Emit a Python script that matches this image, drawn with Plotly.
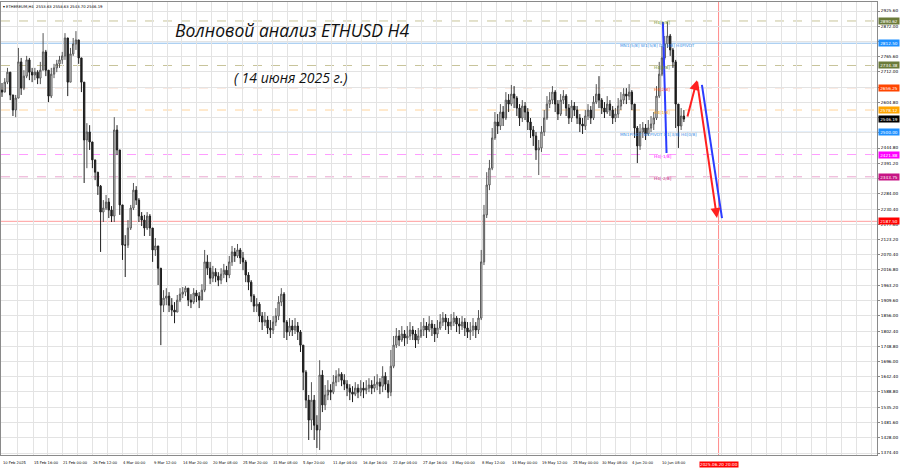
import pandas as pd
import plotly.graph_objects as go

# ---------------- data (ETHUSD, 12h sampling of the H4 chart) ----------------
start_time = "2025-02-10 00:00"
first_open = 2648

close = [
2641,2676,2711,2631,2578,2620,2747,2655,2697,2754,
2711,2701,2711,2690,2718,2782,2718,2627,2704,2726,
2740,2754,2768,2831,2676,2775,2810,2824,2761,2676,
2473,2501,2466,2403,2360,2311,2220,2234,2255,2227,
2206,2508,2438,2245,2104,2104,2164,2234,2297,2262,
2206,2192,2164,2206,2164,2087,2101,2023,1893,1918,
1925,1893,1876,1869,1911,1932,1939,1953,1911,1904,
1936,1925,1911,1946,2045,2023,1988,2009,1995,1981,
2002,2016,1999,2045,2080,2066,2087,2059,2045,1999,
1974,1925,1890,1897,1855,1834,1841,1813,1806,1834,
1855,1904,1932,1834,1799,1820,1806,1820,1799,1753,
1658,1560,1490,1560,1472,1455,1648,1543,1578,1595,
1588,1623,1644,1651,1630,1616,1602,1588,1581,1602,
1588,1602,1595,1602,1613,1602,1616,1623,1609,1644,
1616,1588,1679,1753,1785,1771,1792,1778,1785,1806,
1792,1771,1785,1806,1820,1806,1827,1813,1792,1813,
1834,1848,1834,1820,1834,1848,1827,1820,1834,1813,
1799,1806,1820,1806,1848,2045,2210,2315,2374,2480,
2536,2522,2571,2550,2613,2599,2634,2620,2585,2550,
2592,2571,2536,2508,2487,2438,2445,2501,2550,2599,
2613,2641,2599,2564,2613,2627,2585,2550,2592,2578,
2550,2529,2522,2557,2578,2550,2606,2634,2613,2585,
2571,2599,2578,2550,2564,2592,2613,2634,2627,2641,
2599,2515,2452,2501,2515,2494,2515,2529,2550,2627,
2704,2761,2810,2838,2789,2747,2599,2522,2557,2546.19,
]

high = [
2673,2690,2726,2711,2631,2631,2796,2761,2718,2768,
2761,2726,2726,2718,2747,2848,2789,2718,2726,2740,
2754,2768,2782,2848,2824,2796,2831,2855,2824,2761,
2613,2532,2525,2455,2395,2360,2315,2262,2280,2269,
2241,2553,2525,2438,2245,2139,2192,2245,2322,2311,
2269,2220,2210,2220,2213,2157,2129,2094,2023,1946,
1953,1939,1918,1904,1929,1953,1957,1960,1953,1932,
1953,1946,1939,1967,2087,2069,2045,2031,2023,2009,
2023,2038,2031,2066,2101,2094,2108,2094,2080,2052,
2009,1981,1932,1918,1904,1869,1869,1855,1841,1855,
1883,1925,1953,1939,1841,1848,1841,1848,1834,1806,
1753,1665,1578,1623,1578,1507,1700,1665,1613,1630,
1616,1648,1665,1672,1658,1651,1630,1616,1609,1623,
1616,1630,1623,1630,1637,1630,1644,1651,1637,1679,
1658,1630,1736,1785,1813,1806,1820,1806,1820,1834,
1820,1806,1813,1834,1848,1834,1855,1841,1827,1841,
1862,1869,1862,1848,1862,1869,1855,1848,1855,1848,
1834,1834,1848,1834,1876,2087,2245,2360,2403,2515,
2571,2564,2599,2592,2641,2634,2666,2662,2627,2599,
2613,2606,2585,2550,2522,2501,2473,2522,2578,2627,
2641,2662,2648,2613,2634,2648,2634,2599,2613,2606,
2592,2564,2550,2578,2599,2592,2627,2669,2697,2620,
2606,2627,2613,2592,2585,2620,2641,2655,2655,2669,
2648,2599,2522,2529,2536,2529,2543,2557,2571,2662,
2747,2803,2838,2887,2845,2796,2754,2585,2585,2578,
]

low = [
2624,2641,2669,2613,2557,2553,2620,2631,2648,2690,
2683,2676,2683,2669,2669,2718,2697,2606,2620,2690,
2711,2726,2740,2754,2627,2676,2768,2789,2740,2641,
2322,2374,2438,2374,2332,2280,2080,2185,2227,2199,
2185,2185,2420,2210,2052,1992,2094,2157,2227,2245,
2185,2171,2136,2157,2136,2045,2066,1964,1753,1869,
1893,1869,1855,1830,1869,1904,1918,1925,1890,1883,
1897,1904,1883,1911,1939,1999,1967,1974,1974,1960,
1967,1988,1974,1988,2031,2045,2059,2038,2016,1974,
1946,1904,1869,1869,1834,1806,1820,1792,1778,1792,
1820,1841,1890,1778,1771,1785,1785,1792,1771,1729,
1595,1532,1420,1455,1420,1392,1385,1518,1525,1560,
1560,1581,1609,1623,1609,1595,1574,1560,1553,1574,
1567,1574,1567,1581,1588,1581,1588,1595,1581,1588,
1595,1567,1574,1672,1743,1750,1764,1750,1757,1771,
1771,1743,1757,1778,1785,1778,1799,1785,1764,1778,
1806,1820,1806,1792,1806,1820,1799,1792,1806,1785,
1778,1771,1785,1778,1792,1841,2034,2199,2297,2367,
2473,2494,2508,2522,2543,2571,2592,2585,2557,2522,
2536,2543,2508,2480,2452,2403,2350,2431,2487,2543,
2585,2599,2571,2543,2557,2599,2557,2529,2536,2557,
2529,2501,2494,2508,2543,2529,2543,2599,2585,2564,
2550,2564,2557,2529,2536,2550,2578,2599,2599,2613,
2578,2480,2392,2438,2480,2473,2487,2501,2508,2543,
2620,2697,2754,2796,2768,2726,2515,2445,2508,2536,
]

# Murrey / pivot levels
level_values = [2890.62, 2812.50, 2734.38, 2656.25, 2578.12, 2500.00, 2421.88, 2343.75, 2187.50]
level_names = ["H4[5/8]", "MN1[5/8] W1[5/8] D1[5/8] H4PIVOT", "H4[3/8]", "H4[2/8]", "H4[1/8]",
               "MN1PIVOT W1PIVOT D1[3/8] H4[0/8]", "H4[-1/8]", "H4[-2/8]", ""]

# price boxes on the right scale
box_values = [2890.62, 2812.50, 2734.38, 2656.25, 2578.12, 2546.19, 2500.00, 2421.88, 2343.75, 2187.50]

# y tick labels
y_ticks = [2925.60, 2872.00, 2818.40, 2765.60, 2712.00, 2658.40, 2604.80, 2551.20, 2498.40, 2444.80,
           2391.20, 2338.40, 2284.00, 2230.40, 2177.60, 2123.20, 2070.40, 2016.80, 1963.20, 1909.60,
           1856.00, 1802.40, 1748.80, 1696.00, 1642.40, 1588.80, 1535.20, 1481.60, 1428.00, 1374.40]

# x tick labels
x_tick_times = ["2025-02-10 00:00", "2025-02-15 16:00", "2025-02-21 00:00", "2025-02-26 12:00",
                "2025-03-04 00:00", "2025-03-09 12:00", "2025-03-14 20:00", "2025-03-20 08:00",
                "2025-03-25 20:00", "2025-03-31 08:00", "2025-04-05 20:00", "2025-04-11 04:00",
                "2025-04-16 16:00", "2025-04-22 04:00", "2025-04-27 16:00", "2025-05-03 00:00",
                "2025-05-08 12:00", "2025-05-14 00:00", "2025-05-19 12:00", "2025-05-25 00:00",
                "2025-05-30 08:00", "2025-06-04 20:00", "2025-06-10 08:00"]
x_tick_labels = ["10 Feb 2025", "15 Feb 16:00", "21 Feb 00:00", "26 Feb 12:00", "4 Mar 00:00",
                 "9 Mar 12:00", "14 Mar 20:00", "20 Mar 08:00", "25 Mar 20:00", "31 Mar 08:00",
                 "5 Apr 20:00", "11 Apr 04:00", "16 Apr 16:00", "22 Apr 04:00", "27 Apr 16:00",
                 "3 May 00:00", "8 May 12:00", "14 May 00:00", "19 May 12:00", "25 May 00:00",
                 "30 May 08:00", "4 Jun 20:00", "10 Jun 08:00"]

# forecast wave lines
wave1_t = ["2025-06-10 16:00", "2025-06-11 08:00"]
wave1_p = [2887, 2427]
red_t = ["2025-06-15 02:00", "2025-06-16 21:00", "2025-06-20 13:00"]
red_p = [2550, 2683, 2199]
wave2_t = ["2025-06-17 19:00", "2025-06-21 11:00"]
wave2_p = [2666, 2199]

target_time = "2025-06-20 20:00"
target_label = "2025.06.20 20:00"
header_text = "▾ ETHEREUM,H4  2553.63 2558.63 2543.70 2546.19"
title_text = "Волновой анализ ETHUSD H4"
subtitle_text = "( 14 июня 2025 г.)"

# ---------------- styles ----------------
level_line_colors = ["#c8c49a", "#8fbfee", "#c8c49a", "#f3ae90", "#ffd49c", "#8fbfee", "#ff9cff", "#eaa6cf", "#ff9c9c"]
level_dash = ["dash", "solid", "dash", "dash", "dash", "solid", "dash", "dash", "solid"]
level_text_colors = ["#6b8e23", "#3a8ee6", "#6b8e23", "#ff4500", "#ffa500", "#3a8ee6", "#ff00ff", "#c71585", "#ff0000"]
level_text_x = ["2025-06-08 16:00", "2025-06-02 11:00", "2025-06-08 16:00", "2025-06-08 16:00",
                "2025-06-08 16:00", "2025-06-02 11:00", "2025-06-08 16:00", "2025-06-08 16:00", "2025-06-08 16:00"]
box_colors = ["#6b7b3a", "#1e90ff", "#6b7b3a", "#ff4500", "#ffa500", "#000000", "#1e90ff", "#ff00ff", "#c71585", "#ff0000"]
small_font = "DejaVu Sans"
grid_color = "#e3e3e3"

times = pd.date_range(start_time, periods=len(close), freq="12h")
opens = [first_open] + close[:-1]

fig = go.Figure()
fig.add_trace(go.Candlestick(
    x=times, open=opens, high=high, low=low, close=close,
    increasing=dict(line=dict(color="#555555", width=1), fillcolor="#ffffff"),
    decreasing=dict(line=dict(color="#1e1e1e", width=1), fillcolor="#1e1e1e"),
    whiskerwidth=0, showlegend=False, hoverinfo="skip"))

fig.add_trace(go.Scatter(x=pd.to_datetime(wave1_t), y=wave1_p, mode="lines",
                         line=dict(color="#2b3cff", width=2), showlegend=False, hoverinfo="skip"))
fig.add_trace(go.Scatter(x=pd.to_datetime(wave2_t), y=wave2_p, mode="lines",
                         line=dict(color="#2b3cff", width=2), showlegend=False, hoverinfo="skip"))

shapes = []
annotations = []
for v, c, d in zip(level_values, level_line_colors, level_dash):
    shapes.append(dict(type="line", xref="paper", x0=0, x1=1, yref="y", y0=v, y1=v,
                       line=dict(color=c, width=1, dash=d), layer="below"))
shapes.append(dict(type="line", xref="x", x0=target_time, x1=target_time, yref="paper", y0=0, y1=1,
                   line=dict(color="#ff8a8a", width=1), layer="below"))

for v, name, tc, tx in zip(level_values, level_names, level_text_colors, level_text_x):
    if name:
        annotations.append(dict(x=tx, y=v, xref="x", yref="y", text=name, showarrow=False,
                                xanchor="left", yanchor="middle", yshift=-2,
                                font=dict(size=4.2, color=tc, family=small_font)))

for v, bc in zip(box_values, box_colors):
    annotations.append(dict(x=1, y=v, xref="paper", yref="y", text=f"{v:.2f}", showarrow=False,
                            xanchor="left", yanchor="middle", xshift=1, bgcolor=bc, width=20, height=6,
                            borderpad=0, font=dict(size=4.2, color="#ffffff", family=small_font)))

# red arrows
for i in range(len(red_t) - 1):
    annotations.append(dict(x=red_t[i + 1], y=red_p[i + 1], ax=red_t[i], ay=red_p[i],
                            xref="x", yref="y", axref="x", ayref="y", text="", showarrow=True,
                            arrowhead=2, arrowsize=1, arrowwidth=2, arrowcolor="#ff2020"))

for t, lab in zip(x_tick_times, x_tick_labels):
    annotations.append(dict(x=t, y=0, xref="x", yref="paper", text=lab, showarrow=False,
                            xanchor="left", yanchor="top", yshift=-5, borderpad=0,
                            font=dict(size=3.7, color="#000000", family=small_font)))

annotations.append(dict(x=target_time, y=0, xref="x", yref="paper", text=target_label, showarrow=False,
                        xanchor="center", yanchor="top", yshift=-6, bgcolor="#ff0000", borderpad=0,
                        font=dict(size=4.2, color="#ffffff", family=small_font)))

annotations.append(dict(x=0, y=1, xref="paper", yref="paper", text=header_text, showarrow=False,
                        xanchor="left", yanchor="top", xshift=1, yshift=-1, borderpad=0,
                        font=dict(size=3.8, color="#000000", family=small_font)))
annotations.append(dict(x=0.332, y=0.938, xref="paper", yref="paper", text=title_text, showarrow=False,
                        xanchor="center", yanchor="middle",
                        font=dict(size=17.5, color="#111111", family="Open Sans", style="italic")))
annotations.append(dict(x=0.331, y=0.834, xref="paper", yref="paper", text=subtitle_text, showarrow=False,
                        xanchor="center", yanchor="middle",
                        font=dict(size=14, color="#111111", family="Open Sans", style="italic")))

# grid positions (every half label step)
grid_major = list(pd.to_datetime(x_tick_times))
step = pd.Timedelta(hours=132)
while grid_major[-1] + step < pd.Timestamp("2025-07-20"):
    grid_major.append(grid_major[-1] + step)
grid_minor = [a + (b - a) / 2 for a, b in zip(grid_major[:-1], grid_major[1:])]
grid_minor.append(grid_major[-1] + step / 2)

fig.update_layout(
    width=900, height=470,
    margin=dict(l=1, r=23, t=2, b=15, autoexpand=False),
    paper_bgcolor="#ffffff", plot_bgcolor="#ffffff",
    shapes=shapes, annotations=annotations,
    showlegend=False,
    xaxis=dict(type="date", range=["2025-02-09 19:37", "2025-07-19 18:15"], automargin=False,
               rangeslider=dict(visible=False),
               tickmode="array", tickvals=grid_major, showticklabels=False,
               showgrid=True, gridcolor=grid_color, gridwidth=1,
               minor=dict(tickmode="array", tickvals=grid_minor, showgrid=True, gridcolor=grid_color),
               showline=True, linecolor="#8a8a8a", linewidth=1, mirror=True, zeroline=False),
    yaxis=dict(range=[1367.4, 2957.2], side="right", tickmode="array", tickvals=y_ticks, automargin=False,
               ticktext=[f"{v:.2f}" for v in y_ticks], tickfont=dict(size=4.2, color="#000000", family=small_font),
               ticks="outside", ticklen=2, tickcolor="#8a8a8a",
               showgrid=True, gridcolor=grid_color, gridwidth=1,
               showline=True, linecolor="#8a8a8a", linewidth=1, mirror=True, zeroline=False),
)

fig.write_html("out.html", config={"displayModeBar": False},
               post_script="document.body.style.margin='0px';document.body.style.overflow='hidden';")
